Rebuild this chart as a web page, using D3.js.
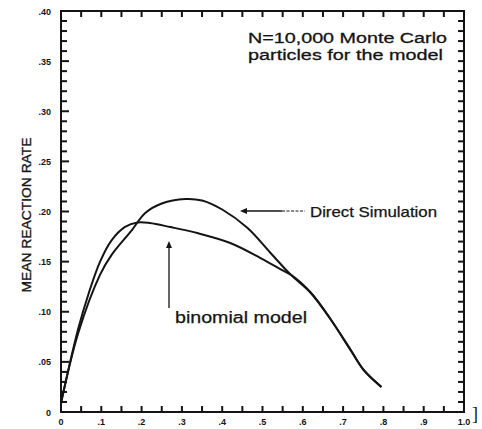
<!DOCTYPE html>
<html><head><meta charset="utf-8">
<script src="https://cdn.jsdelivr.net/npm/d3@7"></script>
<style>body{margin:0;background:#fff}svg{display:block}</style>
</head><body>
<svg id="c" width="482" height="429"></svg>
<script>
const directX = [0, 0.043, 0.097, 0.126, 0.176, 0.209, 0.25, 0.308, 0.35, 0.40, 0.463, 0.52, 0.57, 0.62, 0.67, 0.719, 0.751, 0.795];
const directY = [0.009, 0.079, 0.137, 0.157, 0.1815, 0.1985, 0.208, 0.2125, 0.211, 0.202, 0.1835, 0.1586, 0.137, 0.1187, 0.0918, 0.0618, 0.0419, 0.025];
const binomX = [0, 0.042, 0.07, 0.097, 0.125, 0.159, 0.19, 0.22, 0.271, 0.338, 0.42, 0.495, 0.557, 0.57, 0.62, 0.67, 0.719, 0.751, 0.795];
const binomY = [0.009, 0.082, 0.12, 0.15, 0.171, 0.1846, 0.189, 0.1885, 0.1845, 0.1785, 0.1686, 0.1536, 0.1397, 0.137, 0.119, 0.092, 0.0615, 0.042, 0.025];
const xTicks = [0, 0.1, 0.2, 0.3, 0.4, 0.5, 0.6, 0.7, 0.8, 0.9, 1.0];
const xTickLabels = ["0", ".1", ".2", ".3", ".4", ".5", ".6", ".7", ".8", ".9", "1.0"];
const yTicks = [0, 0.05, 0.10, 0.15, 0.20, 0.25, 0.30, 0.35, 0.40];
const yTickLabels = ["0", ".05", ".10", ".15", ".20", ".25", ".30", ".35", ".40"];
const yLabel = "MEAN REACTION RATE";
const noteLines = ["N=10,000 Monte Carlo", "particles for the model"];
const directLabel = "Direct Simulation";
const binomLabel = "binomial model";

const svg = d3.select("#c");
const x = d3.scaleLinear().domain([0, 1]).range([61, 464]);
const y = d3.scaleLinear().domain([0, 0.4]).range([412, 11]);
const ink = "#141414";
const lblFont = "'Liberation Sans', Arial, sans-serif";

// frame
svg.append("rect").attr("x", x(0)).attr("y", y(0.4)).attr("width", x(1) - x(0)).attr("height", y(0) - y(0.4))
  .attr("fill", "none").attr("stroke", ink).attr("stroke-width", 2);

// ticks
const fineX = d3.range(1, 20).map(i => i * 0.05);
const fineY = d3.range(1, 40).map(i => i * 0.01);
const tg = svg.append("g");
tg.selectAll(".tb").data(fineX).join("line").attr("class", "tb")
  .attr("x1", d => x(d)).attr("x2", d => x(d)).attr("y1", y(0)).attr("y2", y(0) - 6)
  .style("stroke", ink).style("stroke-width", "2px");
tg.selectAll(".tt").data(fineX).join("line").attr("class", "tt")
  .attr("x1", d => x(d)).attr("x2", d => x(d)).attr("y1", y(0.4)).attr("y2", y(0.4) + 6)
  .style("stroke", ink).style("stroke-width", "2px");
tg.selectAll(".tl").data(fineY).join("line").attr("class", "tl")
  .attr("x1", x(0)).attr("x2", (d, i) => x(0) + ((i + 1) % 5 === 0 ? 8 : 6)).attr("y1", d => y(d)).attr("y2", d => y(d))
  .style("stroke", ink).style("stroke-width", "2px");
tg.selectAll(".tr").data(fineY).join("line").attr("class", "tr")
  .attr("x1", x(1)).attr("x2", x(1) - 6).attr("y1", d => y(d)).attr("y2", d => y(d))
  .style("stroke", ink).style("stroke-width", "2px");

// tick labels
svg.append("g").selectAll("text").data(xTicks).join("text")
  .attr("x", d => x(d)).attr("y", 425).attr("text-anchor", "middle")
  .attr("font-family", lblFont).attr("font-weight", "bold").attr("font-size", 9).attr("fill", ink)
  .text((d, i) => xTickLabels[i]);
svg.append("g").selectAll("text").data(yTicks).join("text")
  .attr("x", 51).attr("y", d => y(d) + 3.5).attr("text-anchor", "end")
  .attr("font-family", lblFont).attr("font-weight", "bold").attr("font-size", 9).attr("fill", ink)
  .text((d, i) => yTickLabels[i]);

// y label
svg.append("text").attr("transform", "translate(31,215) rotate(-90)")
  .attr("text-anchor", "middle").attr("font-family", lblFont).attr("font-size", 12.5).attr("fill", ink)
  .attr("stroke", ink).attr("stroke-width", 0.35)
  .attr("textLength", 155).attr("lengthAdjust", "spacingAndGlyphs")
  .text(yLabel);

// curves
const line = d3.line().x(d => x(d[0])).y(d => y(d[1])).curve(d3.curveCatmullRom.alpha(0.5));
const directData = directX.map((v, i) => [v, directY[i]]);
const binomData = binomX.map((v, i) => [v, binomY[i]]);
svg.append("path").datum(directData).attr("d", line).attr("fill", "none").attr("stroke", ink).attr("stroke-width", 2);
svg.append("path").datum(binomData).attr("d", line).attr("fill", "none").attr("stroke", ink).attr("stroke-width", 2);

// note
const note = svg.append("text").attr("font-family", lblFont).attr("font-size", 15.5).attr("fill", ink)
  .attr("stroke", ink).attr("stroke-width", 0.3);
note.append("tspan").attr("x", 248).attr("y", 43).attr("textLength", 199).attr("lengthAdjust", "spacingAndGlyphs").text(noteLines[0]);
note.append("tspan").attr("x", 248).attr("y", 60).attr("textLength", 195).attr("lengthAdjust", "spacingAndGlyphs").text(noteLines[1]);

// direct simulation label + arrow
svg.append("text").attr("x", 310).attr("y", 217).attr("font-family", lblFont).attr("font-size", 14.5).attr("fill", ink)
  .attr("stroke", ink).attr("stroke-width", 0.25)
  .attr("textLength", 127).attr("lengthAdjust", "spacingAndGlyphs").text(directLabel);
svg.append("line").attr("x1", 243).attr("y1", 211).attr("x2", 282).attr("y2", 211).attr("stroke", ink).attr("stroke-width", 1.3);
svg.append("line").attr("x1", 282).attr("y1", 211).attr("x2", 305).attr("y2", 211).attr("stroke", ink).attr("stroke-width", 1.1).attr("stroke-dasharray", "3,1.5");
svg.append("path").attr("d", "M240,211 L247,208 L247,214 Z").attr("fill", ink);

// binomial label + arrow
svg.append("text").attr("x", 175).attr("y", 323).attr("font-family", lblFont).attr("font-size", 16).attr("fill", ink)
  .attr("stroke", ink).attr("stroke-width", 0.25)
  .attr("textLength", 132).attr("lengthAdjust", "spacingAndGlyphs").text(binomLabel);
svg.append("line").attr("x1", 169).attr("y1", 246).attr("x2", 169).attr("y2", 308).attr("stroke", ink).attr("stroke-width", 1.3);
svg.append("path").attr("d", "M169,241 L166,248 L172,248 Z").attr("fill", ink);

// page artifact bracket
svg.append("text").attr("x", 472).attr("y", 420).attr("font-family", "'Liberation Serif', serif").attr("font-size", 18).attr("fill", ink).text("]");
</script>
</body></html>
